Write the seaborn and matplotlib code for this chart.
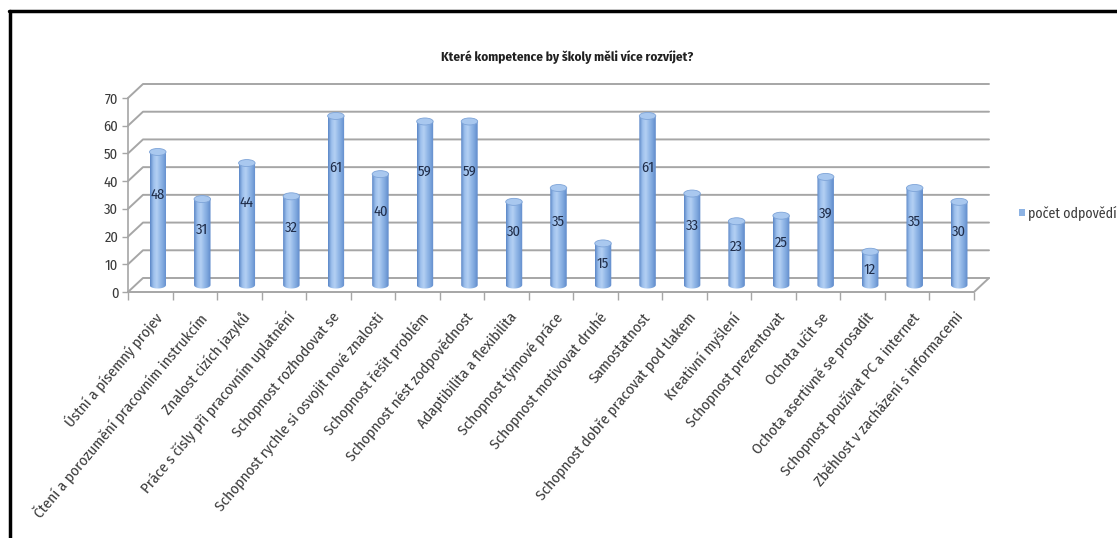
import numpy as np
import pandas as pd
import seaborn as sns
import matplotlib
matplotlib.use("Agg")
import matplotlib.pyplot as plt
from matplotlib.transforms import ScaledTranslation
from matplotlib.patches import Ellipse, PathPatch, Patch
from matplotlib.path import Path
from matplotlib.colors import LinearSegmentedColormap
from matplotlib.lines import Line2D

# --- data -------------------------------------------------------------
categories = [
    "Ústní a písemný projev",
    "Čtení a porozumění pracovním instrukcím",
    "Znalost cizích jazyků",
    "Práce s čísly při pracovním uplatnění",
    "Schopnost rozhodovat se",
    "Schopnost rychle si osvojit nové znalosti",
    "Schopnost řešit problém",
    "Schopnost nést zodpovědnost",
    "Adaptibilita a flexibilita",
    "Schopnost týmové práce",
    "Schopnost motivovat druhé",
    "Samostatnost",
    "Schopnost dobře pracovat pod tlakem",
    "Kreativní myšlení",
    "Schopnost prezentovat",
    "Ochota učit se",
    "Ochota asertivně se prosadit",
    "Schopnost používat PC a internet",
    "Zběhlost v zacházení s informacemi",
]
values = [48, 31, 44, 32, 61, 40, 59, 59, 30, 35, 15, 61, 33, 23, 25, 39, 12, 35, 30]
y_ticks = [0, 10, 20, 30, 40, 50, 60, 70]
series_name = "počet odpovědí"
title = "Které kompetence by školy měli více rozvíjet?"

# --- style --------------------------------------------------------------
sns.set_theme(style="white")
BODY_FONT = ["Fira Sans Condensed", "Sofia Sans Semi Condensed",
             "Barlow Semi Condensed", "DejaVu Sans"]
plt.rcParams["font.family"] = BODY_FONT

BAR = "#8DB3E4"
GRID = "#A6A6A6"
TEXT = "#3A3A3A"

W, H = 1117, 538
fig = plt.figure(figsize=(W / 100, H / 100), dpi=100)
fig.patch.set_facecolor("white")

# plot area (front plane)
ax_l, ax_b, ax_w, ax_h = 128, 292, 846, 194
ax = fig.add_axes([ax_l / W, (H - ax_b) / H, ax_w / W, ax_h / H])

df = pd.DataFrame({"kategorie": categories, "pocet": values})
sns.barplot(data=df, x="kategorie", y="pocet", ax=ax, color=BAR,
            width=0.37, saturation=1, legend=False, zorder=3)

n = len(categories)
ymax = y_ticks[-1]
ax.set_xlim(-0.5, n - 0.5)
ax.set_ylim(0, ymax)
ax.set_xlabel("")
ax.set_ylabel("")
for s in ax.spines.values():
    s.set_visible(False)
ax.set_facecolor("none")

# pixel size of one data unit, for the pseudo-3D depth offsets
ppx = ax_w / n
ppy = ax_h / ymax
back_dx, back_dy = 15 / ppx, 14 / ppy

# back wall gridlines with the diagonal links to the front axis
for v in y_ticks:
    ax.plot([-0.5, -0.5 + back_dx, n - 0.5 + back_dx],
            [v, v + back_dy, v + back_dy],
            color=GRID, lw=1.4, clip_on=False, zorder=0)
# floor: front edge and right side
ax.plot([-0.5, n - 0.5, n - 0.5 + back_dx], [0, 0, back_dy],
        color=GRID, lw=1.4, clip_on=False, zorder=0)
# front vertical axis
ax.plot([-0.5, -0.5], [0, ymax], color=GRID, lw=1.2, clip_on=False, zorder=0)

# ticks
ax.set_yticks(y_ticks)
ax.set_yticklabels([str(v) for v in y_ticks])
ax.tick_params(axis="y", left=True, length=4, width=1, color=GRID,
               labelsize=10.5, labelcolor=TEXT, pad=3)
ax.set_xticks(np.arange(-0.5, n, 1.0))
ax.set_xticklabels([])
ax.tick_params(axis="x", which="major", bottom=True, length=6, width=1,
               color=GRID, direction="out")
ax.set_xticks(np.arange(n), minor=True)
ax.set_xticklabels(categories, minor=True, rotation=50, ha="right",
                   rotation_mode="anchor", fontsize=11, color=TEXT)
ax.tick_params(axis="x", which="minor", length=0, pad=13)
label_shift = ScaledTranslation(3 / 100, 0, fig.dpi_scale_trans)
for lab in ax.get_xticklabels(minor=True):
    lab.set_transform(lab.get_transform() + label_shift)

# cylinders: shaded body, rounded bottom and a lighter top cap
bar_tr = ax.transData + ScaledTranslation(7.5 / 100, 7 / 100, fig.dpi_scale_trans)
cmap = LinearSegmentedColormap.from_list(
    "cyl", ["#5B87C7", "#9CBFEC", "#B4D0F3", "#95BAE9", "#7CA5DC", "#5E8ACA"])
grad = np.linspace(0, 1, 64)[None, :]
cap_h = 7 / ppy

bars = list(ax.patches)
for p, v in zip(bars, values):
    x0, w = p.get_x(), p.get_width()
    cx = x0 + w / 2
    p.set_facecolor("none")
    p.set_edgecolor("none")
    p.set_transform(bar_tr)

    t = np.linspace(np.pi, 2 * np.pi, 30)
    bottom = np.column_stack([cx + w / 2 * np.cos(t), cap_h / 2 * np.sin(t)])
    verts = np.vstack([[x0, v], bottom, [x0 + w, v], [x0, v]])
    body = PathPatch(Path(verts), facecolor="none", edgecolor="none",
                     transform=bar_tr)
    ax.add_patch(body)
    im = ax.imshow(grad, extent=(x0, x0 + w, -cap_h, v), cmap=cmap,
                   aspect="auto", transform=bar_tr, zorder=3,
                   interpolation="bilinear")
    im.set_clip_path(body)

    cap = Ellipse((cx, v), w, cap_h, facecolor="#A9C8EF",
                  edgecolor="#7EA4D8", lw=0.6, transform=bar_tr, zorder=4)
    ax.add_patch(cap)

    ax.text(cx, 0.75 * v - 3.5, str(v), transform=bar_tr, ha="center",
            va="center", fontsize=10.5, color="#1F2D4A", zorder=5)

ax.set_xlim(-0.5, n - 0.5)
ax.set_ylim(0, ymax)

# title and legend
fig.text(567 / W, (H - 57) / H, title, ha="center", va="center",
         fontsize=9.5, fontweight="bold", color="#202020")
fig.legend(handles=[Patch(facecolor=BAR, edgecolor="none")],
           labels=[series_name], loc="center left",
           bbox_to_anchor=(1019 / W, (H - 213) / H), frameon=False,
           borderpad=0, borderaxespad=0,
           handlelength=0.45, handleheight=0.45, handletextpad=0.2,
           fontsize=10, labelcolor=TEXT)

# outer frame
fig.add_artist(Line2D([9 / W, 1], [(H - 11) / H, (H - 11) / H],
                      transform=fig.transFigure, color="black", lw=2.5))
fig.add_artist(Line2D([10 / W, 10 / W], [0, (H - 11) / H],
                      transform=fig.transFigure, color="black", lw=2.5))

fig.savefig("out.png", dpi=100, facecolor="white")
